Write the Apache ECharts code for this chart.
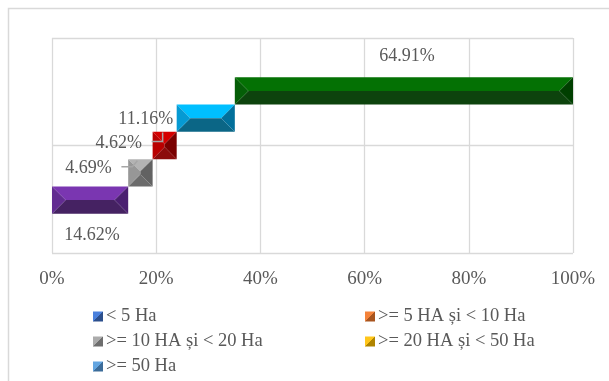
<!DOCTYPE html>
<html>
	<head>
		<meta charset="utf-8" />
		<title></title>
		<script type="text/javascript" src="https://cdn.jsdelivr.net/npm/echarts@6/dist/echarts.min.js"></script>
		<style>
			html, body { margin: 0; padding: 0; background: #fff; }
			#chart { width: 609px; height: 381px; }
		</style>
	</head>
	<body>
		<div id="chart"></div>
		<script type="text/javascript">
			// categorii si ponderi (%)
			var categories = ['< 5 Ha', '>= 5 HA și < 10 Ha', '>= 10 HA și < 20 Ha', '>= 20 HA și < 50 Ha', '>= 50 Ha'];
			var shares = [14.62, 4.69, 4.62, 11.16, 64.91];
			var xTicks = [0, 20, 40, 60, 80, 100];

			// culori bare (sus, stanga, dreapta, jos)
			var barFaces = [
				['#7a36b1', '#622c91', '#4a1f70', '#452262'],
				['#b3b3b3', '#979797', '#626262', '#6b6b6b'],
				['#d50000', '#b90000', '#7a0000', '#8c0b0b'],
				['#00bfff', '#069ad3', '#02709b', '#0b6686'],
				['#047104', '#055e07', '#003f00', '#0d430d']
			];
			// culori legenda (lumina, umbra)
			var legendFaces = [
				['#4a80dc', '#2c4f8c'],
				['#f4833a', '#a8551f'],
				['#ababab', '#6e6e6e'],
				['#ffc61a', '#b08400'],
				['#63a5e0', '#3c6c99']
			];
			// pozitia etichetelor fata de centrul barei (px) si liniile de legatura
			var labelOffset = [[2, 35], [-52, -5], [-46, -2], [-60, 1], [3, -35]];
			var leaders = [null, [[-19, -6], [-8, -6], [-3, -12]], [[-13, -4], [-2, -4], [-2, -13]], null, null];
			// legenda: [stanga, sus] pentru fiecare element
			var legendPos = [[93, 307], [365, 307], [93, 332], [365, 332], [93, 357]];

			var SLOT = 27.3;
			var txt = '#595959';
			var font = 'Liberation Serif';

			function gradient(c) {
				return {
					type: 'linear', x: 0, y: 0, x2: 1, y2: 1,
					colorStops: [
						{ offset: 0, color: c[0] }, { offset: 0.5, color: c[0] },
						{ offset: 0.5, color: c[1] }, { offset: 1, color: c[1] }
					]
				};
			}

			function makeRender(idx) {
				return function(params, api) {
					var p0 = api.coord([api.value(0), 0]);
					var p1 = api.coord([api.value(1), 0]);
					var cy = p0[1] + (2 - idx) * SLOT;
					var x0 = p0[0], x1 = p1[0];
					var y0 = cy - SLOT / 2, y1 = cy + SLOT / 2;
					var b = Math.min(SLOT / 2, (x1 - x0) / 2);
					var f = barFaces[idx];
					var cx = (x0 + x1) / 2;
					var children = [
						{ type: 'polygon', shape: { points: [[x0, y0], [x1, y0], [x1 - b, y0 + b], [x0 + b, y0 + b]] }, style: { fill: f[0] } },
						{ type: 'polygon', shape: { points: [[x0, y1], [x1, y1], [x1 - b, y1 - b], [x0 + b, y1 - b]] }, style: { fill: f[3] } },
						{ type: 'polygon', shape: { points: [[x0, y0], [x0 + b, y0 + b], [x0 + b, y1 - b], [x0, y1]] }, style: { fill: f[1] } },
						{ type: 'polygon', shape: { points: [[x1, y0], [x1 - b, y0 + b], [x1 - b, y1 - b], [x1, y1]] }, style: { fill: f[2] } }
					];
					if (leaders[idx]) {
						var pts = leaders[idx].map(function(p) { return [cx + p[0], cy + p[1]]; });
						children.push({ type: 'polyline', shape: { points: pts }, style: { stroke: '#a6a6a6', lineWidth: 1.5, fill: null } });
					}
					children.push({
						type: 'text',
						style: {
							text: shares[idx].toFixed(2) + '%',
							x: cx + labelOffset[idx][0], y: cy + labelOffset[idx][1],
							fill: txt, font: '18px "' + font + '"',
							align: 'center', verticalAlign: 'middle'
						}
					});
					return { type: 'group', children: children };
				};
			}

			var series = [];
			var acc = 0;
			for (var i = 0; i < categories.length; i++) {
				series.push({
					name: categories[i],
					type: 'custom',
					clip: false,
					itemStyle: { color: gradient(legendFaces[i]) },
					renderItem: makeRender(i),
					encode: { x: [0, 1] },
					data: [[acc, acc + shares[i]]]
				});
				acc += shares[i];
			}

			var legends = categories.map(function(name, k) {
				return {
					left: legendPos[k][0],
					top: legendPos[k][1],
					padding: 0,
					itemWidth: 10,
					itemHeight: 10,
					icon: 'rect',
					selectedMode: false,
					textStyle: { color: txt, fontFamily: font, fontSize: 18.5, padding: [0, 0, 0, -2] },
					data: [{ name: name, itemStyle: { color: gradient(legendFaces[k]) } }]
				};
			});

			var option = {
				animation: false,
				backgroundColor: '#fff',
				graphic: [{
					type: 'rect',
					shape: { x: 8.5, y: 8.5, width: 700, height: 500 },
					style: { fill: null, stroke: '#d9d9d9', lineWidth: 1.5 }
				}],
				grid: { left: 52, right: 36, top: 38, bottom: 128 },
				xAxis: {
					type: 'value',
					min: xTicks[0],
					max: xTicks[xTicks.length - 1],
					interval: 20,
					axisLine: { show: false },
					axisTick: { show: false },
					axisLabel: { formatter: '{value}%', color: txt, fontFamily: font, fontSize: 19, margin: 17 },
					splitLine: { show: true, lineStyle: { color: '#d9d9d9', width: 1.3 } }
				},
				yAxis: {
					type: 'value',
					min: -1,
					max: 1,
					interval: 1,
					axisLine: { show: false },
					axisTick: { show: false },
					axisLabel: { show: false },
					splitLine: { show: true, lineStyle: { color: '#d9d9d9', width: 1.3 } }
				},
				legend: legends,
				series: series
			};

			var myChart = echarts.init(document.getElementById('chart'));
			myChart.setOption(option);
		</script>
	</body>
</html>
